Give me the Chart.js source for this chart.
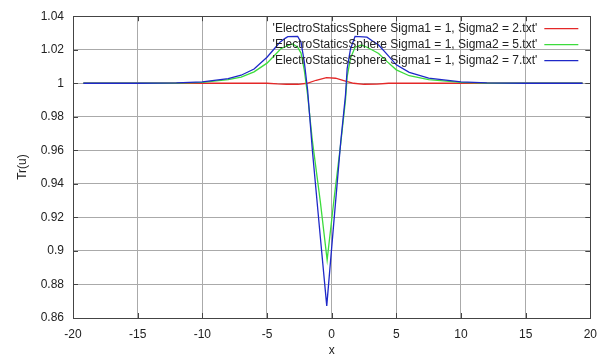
<!DOCTYPE html>
<html>
<head>
<meta charset="utf-8">
<script src="https://cdn.jsdelivr.net/npm/chart.js@4/dist/chart.umd.min.js"></script>
<style>
  html, body { margin: 0; padding: 0; background: #fff; }
  #wrap { width: 606px; height: 362px; }
</style>
</head>
<body>
<div id="wrap"><canvas id="mycanvas"></canvas></div>
<script>
// series labels
var labels = [
  "'ElectroStaticsSphere Sigma1 = 1, Sigma2 = 2.txt'",
  "'ElectroStaticsSphere Sigma1 = 1, Sigma2 = 5.txt'",
  "'ElectroStaticsSphere Sigma1 = 1, Sigma2 = 7.txt'"
];

// Sigma2 = 2 (red)
var xS2 = [-19.2, -10, -5, -4.2, -3.5, -2.6, -1.9, -1.2, -0.4, 0.3, 1.0, 1.7, 2.5, 3.5, 4.4, 10, 19.4];
var yS2 = [1.0, 1.0, 1.0, 0.9996, 0.9994, 0.9994, 1.0, 1.0018, 1.0034, 1.003, 1.0015, 1.0, 0.9994, 0.9995, 1.0, 1.0, 1.0];

// Sigma2 = 5 (green)
var xS5 = [-19.2, -15, -12, -10, -8, -7, -6, -5, -4.5, -3.93, -3.4, -3.0, -2.63, -2.37, -2.12, -1.86, -1.48, -0.87, -0.35,
           0.2, 0.7, 1.07, 1.2, 1.46, 1.81, 2.3, 2.73, 3.1, 3.63, 4.2, 5, 6, 7.5, 10, 12, 15, 19.4];
var yS5 = [1.0, 1.0, 1.0001, 1.0005, 1.0022, 1.0037, 1.0068, 1.012, 1.016, 1.0206, 1.0225, 1.0235, 1.0215, 1.018, 1.008, 0.993, 0.965, 0.929, 0.8945,
           0.932, 0.964, 0.99, 1.004, 1.015, 1.0215, 1.0228, 1.0215, 1.02, 1.0178, 1.0135, 1.008, 1.0045, 1.0022, 1.0005, 1.0001, 1.0, 1.0];

// Sigma2 = 7 (blue)
var xS7 = [-19.2, -15, -12, -10, -8, -7, -6, -5, -4.5, -4, -3.6, -3.39, -2.63, -2.37, -2.12, -1.86, -1.48, -0.87, -0.38,
           0.2, 0.7, 1.07, 1.2, 1.46, 1.81, 2.73, 3.1, 3.63, 4.2, 5, 6, 7.5, 10, 12, 15, 19.4];
var yS7 = [1.0, 1.0, 1.0002, 1.0008, 1.0028, 1.0048, 1.0085, 1.0155, 1.02, 1.0245, 1.0268, 1.0278, 1.028, 1.0245, 1.013, 0.996, 0.959, 0.9077, 0.8672,
           0.92, 0.965, 0.993, 1.0088, 1.0206, 1.028, 1.0275, 1.0255, 1.0228, 1.018, 1.011, 1.0065, 1.0031, 1.0008, 1.0002, 1.0, 1.0];

// axis ticks
var xTicks = [-20, -15, -10, -5, 0, 5, 10, 15, 20];
var yTicks = [0.86, 0.88, 0.9, 0.92, 0.94, 0.96, 0.98, 1, 1.02, 1.04];

var colors = ['rgb(228,40,40)', 'rgb(60,220,60)', 'rgb(30,40,200)'];
var FONT = 'Liberation Sans';

function pts(xs, ys) {
  return xs.map(function (x, i) { return { x: x, y: ys[i] }; });
}

// gnuplot style border, inward ticks and key
var framePlugin = {
  id: 'frame',
  beforeDatasetsDraw: function (chart) {
    var ctx = chart.ctx, a = chart.chartArea;
    var sx = chart.scales.x, sy = chart.scales.y;
    ctx.save();
    ctx.strokeStyle = '#444';
    ctx.lineWidth = 1;
    ctx.beginPath();
    xTicks.forEach(function (t) {
      var p = Math.round(sx.getPixelForValue(t)) + 0.5;
      ctx.moveTo(p, a.bottom); ctx.lineTo(p, a.bottom - 5);
      ctx.moveTo(p, a.top); ctx.lineTo(p, a.top + 5);
    });
    yTicks.forEach(function (t) {
      var p = Math.round(sy.getPixelForValue(t)) + 0.5;
      ctx.moveTo(a.left, p); ctx.lineTo(a.left + 5, p);
      ctx.moveTo(a.right, p); ctx.lineTo(a.right - 5, p);
    });
    ctx.stroke();
    ctx.strokeRect(Math.round(a.left) + 0.5, Math.round(a.top) + 0.5,
                   Math.round(a.right - a.left), Math.round(a.bottom - a.top));
    ctx.restore();
  },
  afterDraw: function (chart) {
    var ctx = chart.ctx, a = chart.chartArea;
    ctx.save();
    ctx.font = '12px "' + FONT + '"';
    ctx.textAlign = 'right';
    ctx.textBaseline = 'middle';
    chart.data.datasets.forEach(function (ds, i) {
      var y = a.top + 12.5 + 16 * i;
      ctx.fillStyle = '#222';
      ctx.fillText(ds.label, a.right - 53, y);
      ctx.strokeStyle = ds.borderColor;
      ctx.lineWidth = 1.3;
      ctx.beginPath();
      ctx.moveTo(a.right - 46, y);
      ctx.lineTo(a.right - 12, y);
      ctx.stroke();
    });
    ctx.restore();
  }
};

var chartdata = {
  datasets: [
    { label: labels[0], data: pts(xS2, yS2), borderColor: colors[0], order: 3 },
    { label: labels[1], data: pts(xS5, yS5), borderColor: colors[1], order: 2 },
    { label: labels[2], data: pts(xS7, yS7), borderColor: colors[2], order: 1 }
  ]
};
chartdata.datasets.forEach(function (d) {
  d.borderWidth = 1.3;
  d.pointRadius = 0;
  d.tension = 0;
  d.fill = false;
});

var ctx1 = document.getElementById('mycanvas');
var lineGraph = new Chart(ctx1, {
  type: 'line',
  data: chartdata,
  options: {
    responsive: true,
    maintainAspectRatio: false,
    animation: false,
    events: [],
    layout: { padding: { top: 12, right: 11, left: 0, bottom: 0 } },
    plugins: { legend: { display: false }, tooltip: { enabled: false } },
    scales: {
      x: {
        type: 'linear',
        min: -20, max: 20,
        afterBuildTicks: function (s) { s.ticks = xTicks.map(function (v) { return { value: v }; }); },
        afterFit: function (s) { s.height = 44; },
        border: { display: false },
        grid: { color: '#aaa', lineWidth: 1, drawTicks: false, borderDash: [1, 3] },
        ticks: { padding: 9, color: '#222', font: { family: FONT, size: 12 }, maxRotation: 0,
                 callback: function (v) { return String(v); } },
        title: { display: true, text: 'x', color: '#222', font: { family: FONT, size: 12 }, padding: { top: 0, bottom: 4 } }
      },
      y: {
        type: 'linear',
        min: 0.86, max: 1.04,
        afterBuildTicks: function (s) { s.ticks = yTicks.map(function (v) { return { value: v }; }); },
        afterFit: function (s) { s.width = 73; },
        border: { display: false },
        grid: { color: '#aaa', lineWidth: 1, drawTicks: false, borderDash: [1, 3] },
        ticks: { padding: 9, color: '#222', font: { family: FONT, size: 12 },
                 callback: function (v) { return String(+v.toFixed(2)); } },
        title: { display: true, text: 'Tr(u)', color: '#222', font: { family: FONT, size: 12 }, padding: { top: 15, bottom: 0 } }
      }
    }
  },
  plugins: [framePlugin]
});
</script>
</body>
</html>
